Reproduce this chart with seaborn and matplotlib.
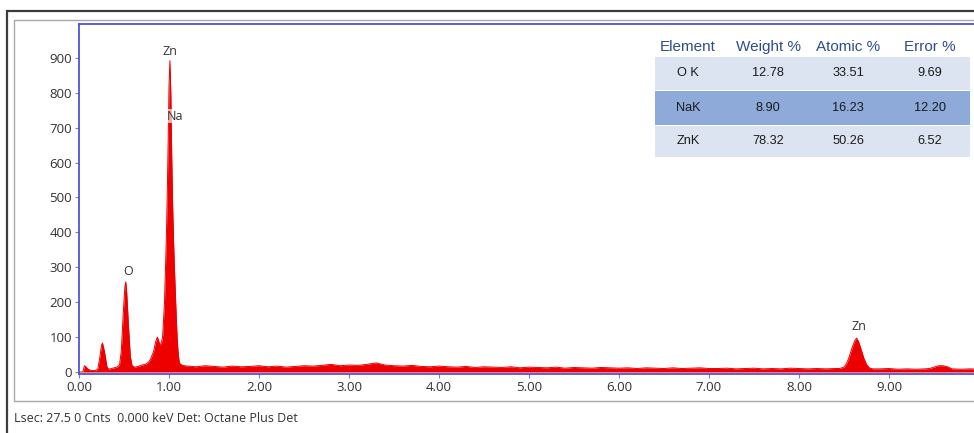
import numpy as np
import pandas as pd
import seaborn as sns
import matplotlib
matplotlib.use("Agg")
import matplotlib.pyplot as plt
from matplotlib.patches import Rectangle

# ---- EDS spectrum (energy in keV, counts) ----
low_energy = [0.00, 0.04, 0.05, 0.06, 0.08, 0.10, 0.13, 0.16, 0.19, 0.21, 0.23, 0.25,
              0.26, 0.27, 0.29, 0.31, 0.33, 0.36, 0.39, 0.42, 0.45, 0.47, 0.49, 0.51,
              0.52, 0.53, 0.55, 0.57, 0.59, 0.62, 0.66, 0.70, 0.74, 0.78, 0.80, 0.83,
              0.85, 0.87, 0.88, 0.90, 0.92, 0.93, 0.95, 0.97, 0.98, 0.99, 1.00, 1.01,
              1.02, 1.03, 1.04, 1.05, 1.06, 1.07, 1.08, 1.09, 1.10, 1.11, 1.12, 1.15]
low_counts = [0, 0, 6, 18, 14, 8, 5, 4, 5, 10, 40, 76,
              83, 74, 48, 15, 8, 10, 12, 14, 20, 60, 160, 245,
              258, 228, 130, 45, 18, 14, 16, 20, 22, 30, 40, 60,
              85, 100, 94, 76, 88, 105, 200, 380, 500, 650, 820, 892,
              800, 620, 480, 380, 300, 230, 160, 100, 60, 35, 24, 19]

baseline_start, baseline_step = 1.2, 0.1
baseline_counts = [17, 15, 18, 16, 14, 17, 15, 16, 18,
                   15, 17, 14, 16, 18, 17, 19, 22, 18, 20,
                   19, 22, 26, 20, 18, 17, 19, 16, 15, 17,
                   15, 14, 16, 13, 15, 14, 13, 15, 12, 14,
                   13, 12, 14, 11, 13, 12, 11, 13, 12, 11,
                   12, 10, 12, 11, 10, 12, 10, 11, 12, 10,
                   10, 11, 9, 10, 11, 9, 10, 9, 11, 10,
                   9, 10, 9, 10]

high_energy = [8.45, 8.50, 8.53, 8.56, 8.59, 8.62, 8.64, 8.66, 8.69, 8.72, 8.75, 8.78,
               8.82, 8.90, 9.00, 9.10, 9.20, 9.30, 9.40, 9.45, 9.50, 9.55, 9.60, 9.65,
               9.70, 9.80, 9.90, 10.00]
high_counts = [10, 14, 25, 45, 70, 90, 97, 88, 65, 40, 22, 12,
               9, 9, 10, 8, 9, 8, 9, 10, 14, 18, 18, 15,
               9, 8, 9, 8]

# ---- peak labels ----
peak_names = ["Zn", "Na", "O", "Zn"]
peak_x = [1.01, 1.07, 0.545, 8.67]
peak_y = [917, 733, 289, 129]

# ---- quantification table ----
table_header = ["Element", "Weight %", "Atomic %", "Error %"]
elements = ["O K", "NaK", "ZnK"]
weight_pct = ["12.78", "8.90", "78.32"]
atomic_pct = ["33.51", "16.23", "50.26"]
error_pct = ["9.69", "12.20", "6.52"]

x_ticks = [0, 1, 2, 3, 4, 5, 6, 7, 8, 9]
y_ticks = [0, 100, 200, 300, 400, 500, 600, 700, 800, 900]
status_text = "Lsec: 27.5 0 Cnts  0.000 keV Det: Octane Plus Det"

baseline_energy = np.round(baseline_start + baseline_step * np.arange(len(baseline_counts)), 2)
spectrum = pd.DataFrame({
    "energy": np.concatenate([low_energy, baseline_energy, high_energy]),
    "counts": np.concatenate([low_counts, baseline_counts, high_counts]),
})

sns.set_theme(style="white")
plt.rcParams["font.family"] = ["Open Sans", "DejaVu Sans"]

W, H = 974, 433
fig = plt.figure(figsize=(W / 100, H / 100), dpi=100)


def fx(px):
    return px / W


def fy(py):
    return 1 - py / H


# window frames
fig.add_artist(Rectangle((fx(7), fy(440)), fx(1000), fy(11) - fy(440),
                         transform=fig.transFigure, fill=False, ec="#3c3c3c", lw=1.6))
fig.add_artist(Rectangle((fx(14), fy(401)), fx(1000), fy(20) - fy(401),
                         transform=fig.transFigure, fill=False, ec="#a8a8a8", lw=1.0))

ax = fig.add_axes([fx(79), fy(374), fx(979) - fx(79), fy(24) - fy(374)])

red = "#ee0000"
sns.lineplot(data=spectrum, x="energy", y="counts", ax=ax, color=red, lw=0.7,
             estimator=None, sort=False)
ax.fill_between(spectrum["energy"], 0, spectrum["counts"], color=red, lw=0)

ax.set_xlim(0, 10)
ax.set_ylim(-5.7, 997)
ax.set_xticks(x_ticks)
ax.set_xticklabels([f"{t:.2f}" for t in x_ticks])
ax.set_yticks(y_ticks)
ax.set_xlabel("")
ax.set_ylabel("")
ax.tick_params(axis="both", labelsize=9.5, length=3, width=0.8,
               direction="out", pad=2)
ax.tick_params(axis="x", colors="#7a7ad0", labelcolor="#333333")
ax.tick_params(axis="y", colors="#888888", labelcolor="#333333")
ax.tick_params(bottom=True, left=True)
for side in ["left", "top", "bottom", "right"]:
    ax.spines[side].set_color("#5050e0")
    ax.spines[side].set_linewidth(1.3)

for name, x, y in zip(peak_names, peak_x, peak_y):
    ax.text(x, y, name, ha="center", va="center", fontsize=9, color="#333333",
            bbox=dict(boxstyle="square,pad=0.05", fc="white", ec="none", alpha=0.65))

# quantification table
cols_x = [688, 768, 848, 930]
for cx, label in zip(cols_x, table_header):
    fig.text(fx(cx), fy(47), label, ha="center", va="center", fontsize=11,
             color="#2d4e8e", family=["Liberation Sans", "DejaVu Sans"])
row_bands = [(57, 90), (91, 125), (126, 157)]
row_colors = ["#dce4f2", "#8eaad8", "#dce4f2"]
for i, ((top, bot), col) in enumerate(zip(row_bands, row_colors)):
    fig.add_artist(Rectangle((fx(655), fy(bot)), fx(970) - fx(655), fy(top) - fy(bot),
                             transform=fig.transFigure, fc=col, ec="none"))
    yc = (top + bot) / 2
    for cx, val in zip(cols_x, [elements[i], weight_pct[i], atomic_pct[i], error_pct[i]]):
        fig.text(fx(cx), fy(yc), val, ha="center", va="center", fontsize=9.2,
                 color="#1a1a1a", family=["Liberation Sans", "DejaVu Sans"])

fig.text(fx(14), fy(418), status_text, ha="left", va="center", fontsize=9, color="#333333")

fig.savefig("out.png", dpi=100)
